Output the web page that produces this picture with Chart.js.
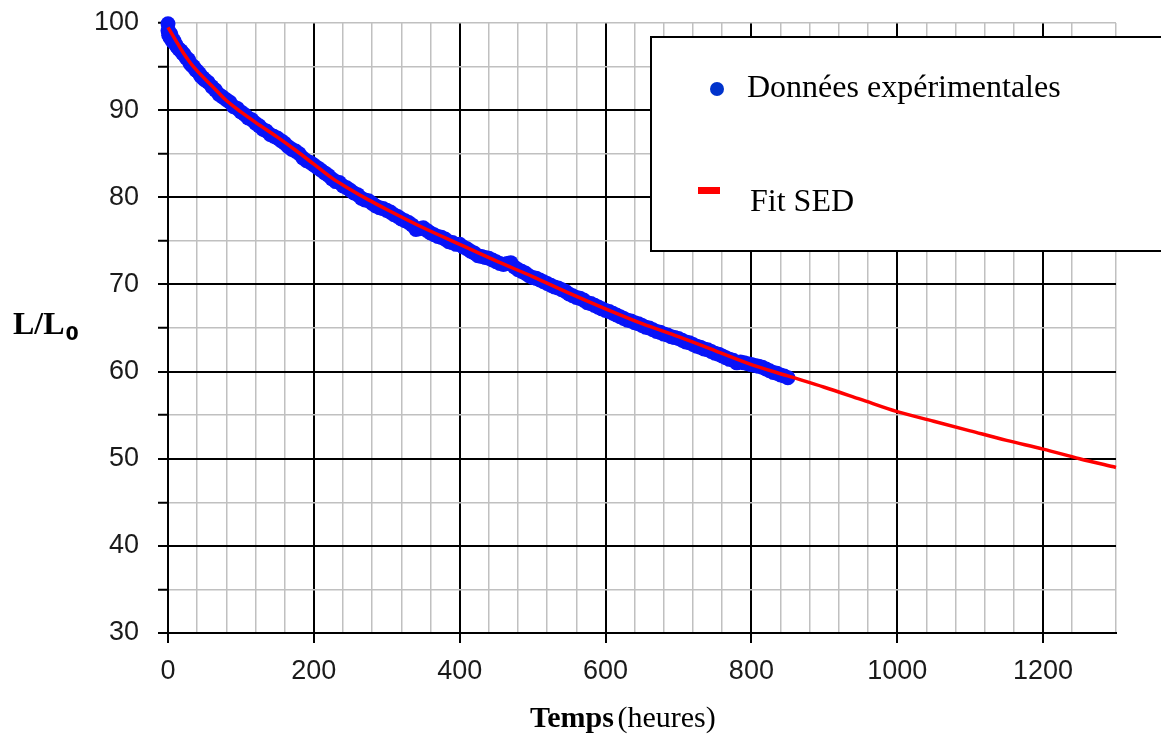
<!DOCTYPE html>
<html><head><meta charset="utf-8">
<script src="https://cdn.jsdelivr.net/npm/chart.js@4"></script>
<style>html,body{margin:0;padding:0;background:#fff}#wrap{width:1161px;height:736px;position:relative}</style>
</head><body><div id="wrap"><canvas id="c" width="1161" height="736"></canvas></div>
<script>
// ---- data ----
const fitHours  = [0,10,20,30,40,60,80,100,120,150,175,200,225,250,275,300,350,400,450,500,550,600,650,700,750,800,850,900,950,1000,1050,1100,1150,1200,1250,1300];
const fitValues = [99.5,98.1,96.7,95.5,94.5,92.8,91.1,89.8,88.6,86.9,85.4,83.8,82.2,80.9,79.7,78.6,76.5,74.6,72.7,70.9,69.0,67.2,65.5,64.0,62.4,60.8,59.5,58.2,56.8,55.4,54.3,53.2,52.1,51.1,50.0,49.0];

const dataHours  = [0,0,1,2,3,4,5,6,8,10,12,15,18,20,22,25,28,30,33,35,38,40,43,45,48,50,55,60,65,70,75,80,85,90,95,100,105,110,115,120,125,130,135,140,145,150,155,160,165,170,175,180,185,190,195,200,205,210,215,220,225,230,235,240,245,250,255,260,265,270,275,280,285,290,295,300,305,310,315,320,325,330,335,340,345,350,355,360,365,370,375,380,385,390,395,400,405,410,415,420,425,430,435,440,445,450,455,460,465,470,475,480,485,490,495,500,505,510,515,520,525,530,535,540,545,550,555,560,565,570,575,580,585,590,595,600,605,610,615,620,625,630,635,640,645,650,655,660,665,670,675,680,685,690,695,700,705,710,715,720,725,730,735,740,745,750,755,760,765,770,775,780,785,790,795,800,805,810,815,820,825,830,835,840,845,850];
const dataValues = [99.9,99.1,98.6,98.9,98.3,98.7,98.2,97.9,98.0,97.6,97.3,97.0,96.8,96.5,96.4,96.0,95.8,95.4,95.1,95.0,94.6,94.5,94.2,93.9,93.7,93.5,93.2,92.7,92.3,91.8,91.5,91.2,90.9,90.4,90.2,89.8,89.5,89.1,88.9,88.5,88.2,87.8,87.6,87.2,87.0,86.8,86.5,86.2,85.8,85.5,85.3,85.0,84.5,84.2,84.0,83.7,83.4,83.1,82.8,82.5,82.1,81.8,81.7,81.3,81.1,80.8,80.5,80.3,79.9,79.7,79.6,79.3,79.0,78.8,78.7,78.5,78.3,78.0,77.8,77.5,77.3,77.1,76.8,76.3,76.4,76.5,76.2,75.9,75.7,75.5,75.4,75.2,74.9,74.8,74.6,74.6,74.3,74.1,73.8,73.6,73.3,73.2,73.1,73.0,72.8,72.6,72.4,72.3,72.4,72.5,72.0,71.7,71.5,71.3,71.0,70.8,70.7,70.5,70.3,70.1,69.9,69.7,69.6,69.4,69.2,68.9,68.7,68.5,68.4,68.2,67.9,67.8,67.6,67.4,67.2,67.0,66.9,66.7,66.5,66.3,66.1,65.9,65.8,65.6,65.5,65.3,65.1,65.0,64.8,64.6,64.5,64.3,64.2,64.0,63.9,63.8,63.6,63.4,63.3,63.1,62.9,62.8,62.6,62.5,62.3,62.1,62.0,61.8,61.6,61.4,61.3,61.0,61.1,61.0,60.9,60.8,60.7,60.6,60.5,60.3,60.1,59.9,59.8,59.6,59.5,59.3];

const xTickLabels = [0,200,400,600,800,1000,1200];
const yTickLabels = [30,40,50,60,70,80,90,100];

const legendLabels = ['Données expérimentales','Fit SED'];
const xTitleBold = 'Temps';
const xTitleRest = ' (heures)';
const yTitleMain = 'L/L';
const yTitleSub = '0';

// ---- chart ----
const fitPoints = fitHours.map((h,i)=>({x:h,y:fitValues[i]}));
const dataPoints = dataHours.map((h,i)=>({x:h,y:dataValues[i]}));

const decor = {
  id:'decor',
  afterDraw(chart){
    const c = chart.ctx;
    c.save();
    // legend box
    c.fillStyle = '#fff';
    c.fillRect(651,37,530,214);
    c.strokeStyle = '#000';
    c.lineWidth = 2;
    c.strokeRect(651,37,530,214);
    c.fillStyle = '#0033cc';
    c.beginPath(); c.arc(717,89,7,0,Math.PI*2); c.fill();
    c.fillStyle = '#ff0000';
    c.fillRect(698,187,22,7);
    c.fillStyle = '#000';
    c.font = '32px "Liberation Serif"';
    c.textBaseline = 'alphabetic';
    c.textAlign = 'left';
    c.fillText(legendLabels[0],747,97);
    c.fillText(legendLabels[1],750,211);
    // y title
    c.font = 'bold 32px "Liberation Serif"';
    c.fillText(yTitleMain,13,334);
    const w = c.measureText(yTitleMain).width;
    c.font = 'bold 19px "DejaVu Sans"';
    c.fillText(yTitleSub,13+w+1,340);
    // x title
    c.font = 'bold 30px "Liberation Serif"';
    c.fillText(xTitleBold,530,727);
    const wb = c.measureText(xTitleBold).width;
    c.font = '30px "Liberation Serif"';
    c.fillText(xTitleRest,530+wb-4,727);
    c.restore();
  }
};

new Chart(document.getElementById('c'),{
  type:'scatter',
  data:{datasets:[
    {label:legendLabels[1],data:fitPoints,showLine:true,borderColor:'#ff0000',borderWidth:3.5,pointRadius:0,cubicInterpolationMode:'monotone',clip:false},
    {label:legendLabels[0],data:dataPoints,showLine:false,backgroundColor:'#0814f8',borderColor:'#0814f8',borderWidth:0,pointRadius:7.5,clip:false}
  ]},
  options:{
    responsive:false,animation:false,
    layout:{autoPadding:false,padding:{top:23,right:45,bottom:0,left:0}},
    plugins:{legend:{display:false},tooltip:{enabled:false},title:{display:false}},
    scales:{
      x:{type:'linear',min:0,max:1300,
        afterFit(s){s.height=103;s.paddingLeft=0;s.paddingRight=0;},
        border:{color:'#000',width:2},
        grid:{
          color:c=>(c.tick&&c.tick.value%200===0)?'#000':'#c0c0c0',
          lineWidth:c=>(c.tick&&c.tick.value%200===0)?2:1.5,
          tickColor:c=>(c.tick&&c.tick.value%200===0)?'#000':'rgba(0,0,0,0)',
          tickLength:10,tickWidth:2,drawTicks:true
        },
        ticks:{stepSize:40,autoSkip:false,maxRotation:0,padding:12,color:'#1a1a1a',
          font:{family:'Liberation Sans',size:27},
          callback:v=>xTickLabels.includes(v)?String(v):''}
      },
      y:{type:'linear',min:30,max:100,
        afterFit(s){s.width=168;s.paddingTop=0;s.paddingBottom=0;},
        border:{color:'#000',width:2},
        grid:{
          color:c=>(c.tick&&c.tick.value%10===0&&c.tick.value!==100)?'#000':'#c0c0c0',
          lineWidth:c=>(c.tick&&c.tick.value%10===0&&c.tick.value!==100)?2:1.5,
          tickColor:'#000',tickLength:10,tickWidth:2,drawTicks:true
        },
        ticks:{stepSize:5,autoSkip:false,padding:19,color:'#1a1a1a',
          font:{family:'Liberation Sans',size:27},
          callback:v=>yTickLabels.includes(v)?String(v):''}
      }
    }
  },
  plugins:[decor]
});
</script></body></html>
